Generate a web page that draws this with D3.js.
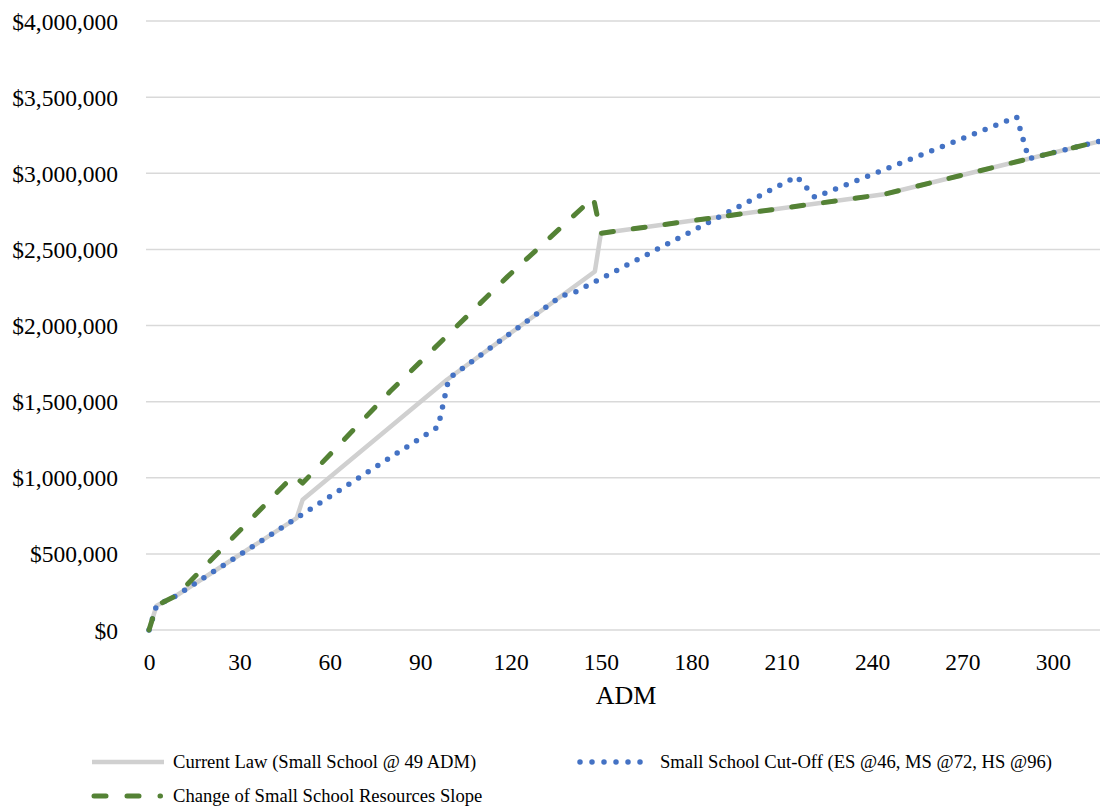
<!DOCTYPE html>
<html>
<head>
<meta charset="utf-8">
<script src="https://cdn.jsdelivr.net/npm/d3@7"></script>
<style>
	body { margin: 0; background: #fff; }
	text { font-family: "Liberation Serif", "Times New Roman", serif; fill: #000; }
</style>
</head>
<body>
<div id="theChart"></div>
<script>
// ADM values and funding
const currentLawAdm = [0, 2.5, 5, 9, 49, 51, 99, 148, 150, 244, 316]
const currentLawValues = [0, 160000, 185000, 225000, 735000, 855000, 1645000, 2355000, 2606000, 2862000, 3212000]

const cutOffAdm = [0, 2.5, 5, 9, 49, 96, 99.5, 137, 141, 215, 221, 288, 292, 316]
const cutOffValues = [0, 160000, 185000, 225000, 735000, 1336000, 1652000, 2196000, 2215000, 2979000, 2842000, 3370000, 3095000, 3212000]

const slopeAdm = [0, 2.5, 5, 9, 48, 51, 80, 119, 147.5, 150, 244, 316]
const slopeValues = [0, 160000, 185000, 225000, 1015000, 965000, 1566000, 2321000, 2840000, 2606000, 2862000, 3212000]

const xTicks = [0, 30, 60, 90, 120, 150, 180, 210, 240, 270, 300]
const yTicks = [0, 500000, 1000000, 1500000, 2000000, 2500000, 3000000, 3500000, 4000000]

const seriesNames = [
	"Current Law (Small School @ 49 ADM)",
	"Small School Cut-Off (ES @46, MS @72, HS @96)",
	"Change of Small School Resources Slope",
]

const w = 1100
const h = 807

const svg = d3
	.select("#theChart")
	.append("svg")
	.attr("width", w)
	.attr("height", h)

const xScale = d3.scaleLinear().domain([0, 316]).range([149, 1101])
const yScale = d3.scaleLinear().domain([0, 4000000]).range([630, 21])

// gridlines
svg.append("g")
	.selectAll("line")
	.data(yTicks)
	.enter()
	.append("line")
	.attr("x1", 146)
	.attr("x2", w)
	.attr("y1", d => yScale(d))
	.attr("y2", d => yScale(d))
	.attr("stroke", "#d9d9d9")
	.attr("stroke-width", 1.5)

const money = d3.format("$,")

const yAxis = d3
	.axisLeft(yScale)
	.tickValues(yTicks)
	.tickSize(0)
	.tickPadding(0)
	.tickFormat(d => money(d))

svg.append("g")
	.attr("transform", "translate(118,0)")
	.call(yAxis)
	.call(g => g.select(".domain").remove())
	.selectAll("text")
	.attr("font-family", null)
	.style("font-size", "23.5px")
	.attr("dy", "0.34em")

const xAxis = d3
	.axisBottom(xScale)
	.tickValues(xTicks)
	.tickSize(0)
	.tickPadding(0)

svg.append("g")
	.attr("transform", "translate(0,630)")
	.call(xAxis)
	.call(g => g.select(".domain").remove())
	.selectAll("text")
	.attr("font-family", null)
	.style("font-size", "23.5px")
	.attr("y", 40)
	.attr("dy", 0)

svg.append("text")
	.attr("x", 626)
	.attr("y", 704)
	.attr("text-anchor", "middle")
	.style("font-size", "26px")
	.text("ADM")

const line = d3
	.line()
	.x(d => xScale(d[0]))
	.y(d => yScale(d[1]))

const styles = [
	{ color: "#d0d0d0", dash: null, cap: "butt", width: 4.5 },
	{ color: "#4472c4", dash: "0,11.5", cap: "round", width: 5.5 },
	{ color: "#548235", dash: "12,20", cap: "round", width: 5 },
]

const seriesData = [
	d3.zip(currentLawAdm, currentLawValues),
	d3.zip(cutOffAdm, cutOffValues),
	d3.zip(slopeAdm, slopeValues),
]

svg.append("defs")
	.append("clipPath")
	.attr("id", "plotClip")
	.append("rect")
	.attr("x", 140)
	.attr("y", 0)
	.attr("width", w - 140)
	.attr("height", 640)

svg.append("g")
	.attr("clip-path", "url(#plotClip)")
	.selectAll("path")
	.data(seriesData)
	.enter()
	.append("path")
	.attr("d", d => line(d))
	.attr("fill", "none")
	.attr("stroke", (d, i) => styles[i].color)
	.attr("stroke-width", (d, i) => styles[i].width)
	.attr("stroke-linecap", (d, i) => styles[i].cap)
	.attr("stroke-linejoin", "round")
	.attr("stroke-dasharray", (d, i) => styles[i].dash)

// legend
const legendPos = [
	{ x: 92, y: 762 },
	{ x: 578, y: 762 },
	{ x: 92, y: 796 },
]
const legendDash = [null, "0,12", "12,21"]

const legend = svg
	.append("g")
	.selectAll("g")
	.data(seriesNames)
	.enter()
	.append("g")
	.attr("transform", (d, i) => `translate(${legendPos[i].x},${legendPos[i].y})`)

legend
	.append("line")
	.attr("x1", (d, i) => (i === 0 ? 0 : 2))
	.attr("x2", (d, i) => (i === 0 ? 72 : 68.5))
	.attr("stroke", (d, i) => styles[i].color)
	.attr("stroke-width", (d, i) => styles[i].width)
	.attr("stroke-linecap", (d, i) => (i === 0 ? "butt" : "round"))
	.attr("stroke-dasharray", (d, i) => legendDash[i])

legend
	.append("text")
	.attr("x", (d, i) => (i === 1 ? 82 : 81))
	.attr("dy", "0.33em")
	.style("font-size", "18.6px")
	.text(d => d)
</script>
</body>
</html>
